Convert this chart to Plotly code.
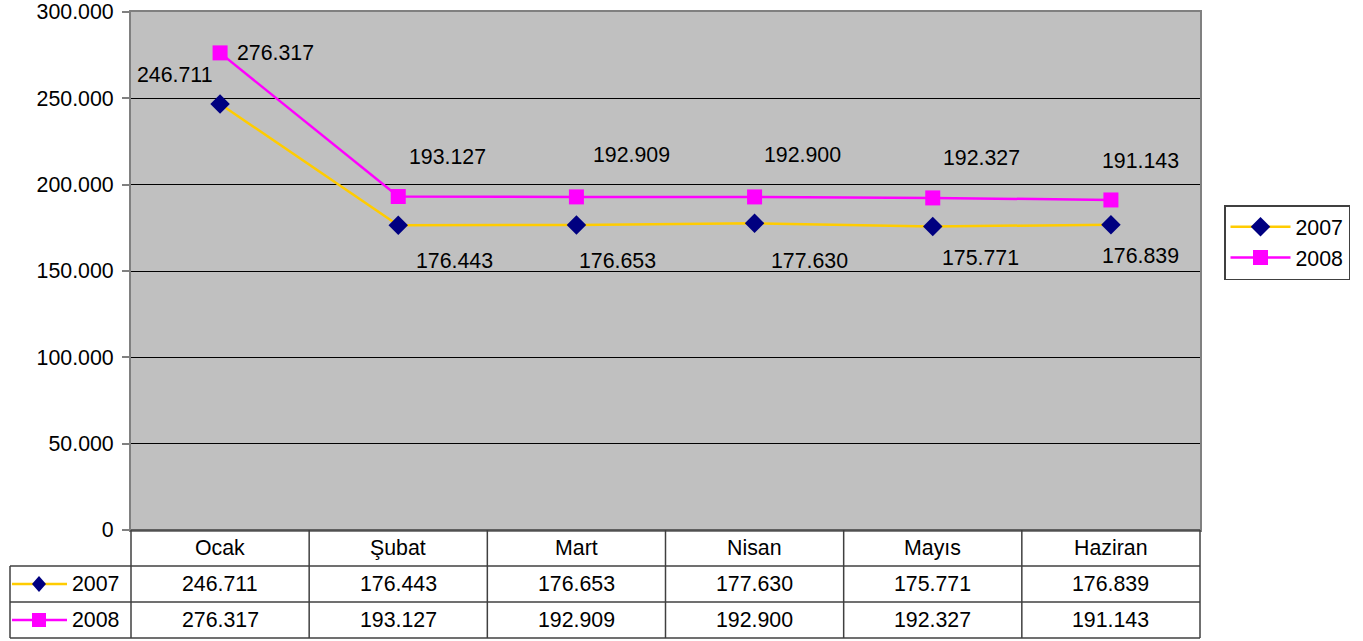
import plotly.graph_objects as go

categories = ["Ocak", "Şubat", "Mart", "Nisan", "Mayıs", "Haziran"]
series_names = ["2007", "2008"]
values_2007 = [246711, 176443, 176653, 177630, 175771, 176839]
values_2008 = [276317, 193127, 192909, 192900, 192327, 191143]
y_ticks = [0, 50000, 100000, 150000, 200000, 250000, 300000]

# label pixel offsets (style only)
off_2007 = [(-45, 29), (56, -36), (41, -36), (55, -38), (48, -31), (30, -31)]
off_2008 = [(55, 0), (49, 40), (55, 42), (48, 42), (49, 40), (30, 39)]

FONT = "Arial, Liberation Sans, sans-serif"
FS = 21.33
GOLD = "#FFCC00"
NAVY = "#000080"
MAG = "#FF00FF"

PL, PT, PW, PH = 131, 12, 1069.0, 518.0
FIG_W, FIG_H = 1363, 641

def fmt(v):
    return f"{v:,}".replace(",", ".")

def px(xp):  # page x -> paper
    return (xp - PL) / PW

def py(yp):  # page y -> paper
    return (PT + PH - yp) / PH

fig = go.Figure()
fig.add_trace(go.Scatter(x=categories, y=values_2007, name=series_names[0], mode="lines+markers",
                         legendgroup="a", hoverinfo="skip",
                         line=dict(color=GOLD, width=2.5),
                         marker=dict(symbol="diamond", color=NAVY, size=15, line=dict(width=0))))
fig.add_trace(go.Scatter(x=categories, y=values_2008, name=series_names[1], mode="lines+markers",
                         legendgroup="b", hoverinfo="skip",
                         line=dict(color=MAG, width=2.5),
                         marker=dict(symbol="square", color=MAG, size=15, line=dict(width=0))))

ann = []
tf = dict(size=FS, color="black", family=FONT)
for i, c in enumerate(categories):
    ann.append(dict(x=c, y=values_2007[i], xref="x", yref="y", text=fmt(values_2007[i]), showarrow=False,
                    xshift=off_2007[i][0], yshift=off_2007[i][1], font=tf))
    ann.append(dict(x=c, y=values_2008[i], xref="x", yref="y", text=fmt(values_2008[i]), showarrow=False,
                    xshift=off_2008[i][0], yshift=off_2008[i][1], font=tf))

# data table
row_c = [py(548), py(584), py(620)]
for i, c in enumerate(categories):
    for r, txt in enumerate([c, fmt(values_2007[i]), fmt(values_2008[i])]):
        ann.append(dict(x=c, y=row_c[r], xref="x", yref="paper", text=txt, showarrow=False,
                        xanchor="center", yanchor="middle", font=tf))
for k, nm in enumerate(series_names):
    ann.append(dict(x=px(70), y=row_c[k + 1], xref="paper", yref="paper", text=nm, showarrow=False,
                    xanchor="left", yanchor="middle", font=tf))

shapes = []
LC = "#404040"
shapes.append(dict(type="line", xref="paper", yref="paper", x0=px(131), x1=px(1200), y0=py(530), y1=py(530),
                   line=dict(color=LC, width=1.5)))
for yy in [566, 602, 638]:
    shapes.append(dict(type="line", xref="paper", yref="paper", x0=px(10), x1=px(1200), y0=py(yy), y1=py(yy),
                       line=dict(color=LC, width=1.5)))
for j in range(7):
    xx = 131 + j * PW / 6
    shapes.append(dict(type="line", xref="paper", yref="paper", x0=px(xx), x1=px(xx), y0=py(530), y1=py(638),
                       line=dict(color=LC, width=1.5)))
shapes.append(dict(type="line", xref="paper", yref="paper", x0=px(10), x1=px(10), y0=py(566), y1=py(638),
                   line=dict(color=LC, width=1.5)))
for lc, yy in [(GOLD, 584), (MAG, 620)]:
    shapes.append(dict(type="line", xref="paper", yref="paper", x0=px(12), x1=px(67), y0=py(yy), y1=py(yy),
                       line=dict(color=lc, width=2.5)))
cx, cy = 39, 584
shapes.append(dict(type="path", xref="paper", yref="paper",
                   path=f"M {px(cx-7)},{py(cy)} L {px(cx)},{py(cy-8)} L {px(cx+7)},{py(cy)} L {px(cx)},{py(cy+8)} Z",
                   fillcolor=NAVY, line=dict(width=0)))
cy = 620
shapes.append(dict(type="rect", xref="paper", yref="paper", x0=px(cx-7), x1=px(cx+7), y0=py(cy+7), y1=py(cy-7),
                   fillcolor=MAG, line=dict(width=0)))

fig.update_layout(
    width=FIG_W, height=FIG_H,
    margin=dict(l=PL, r=FIG_W - PL - PW, t=PT, b=FIG_H - PT - PH, autoexpand=False),
    paper_bgcolor="white", plot_bgcolor="#C0C0C0",
    separators=",.",
    font=dict(family=FONT, size=FS, color="black"),
    showlegend=True, hovermode=False,
    legend=dict(x=px(1224), y=py(205), xanchor="left", yanchor="top",
                bgcolor="white", bordercolor="#404040", borderwidth=1.5,
                font=tf, traceorder="grouped", tracegroupgap=0,
                itemwidth=60),
    annotations=ann, shapes=shapes,
)
fig.update_xaxes(type="category", range=[-0.5, 5.5], showticklabels=False, ticks="",
                 showgrid=False, showline=True, mirror=True, linecolor="#808080", linewidth=2, zeroline=False,
                 automargin=False)
fig.update_yaxes(range=[0, 300000], tickvals=y_ticks, tickformat=",.0f", ticks="outside", ticklen=7,
                 tickcolor="#808080", tickwidth=1.5, showgrid=True, gridcolor="black", gridwidth=1,
                 showline=True, mirror=True, linecolor="#808080", linewidth=2, zeroline=False,
                 tickfont=tf, automargin=False, ticklabelstandoff=4, ticklabeloverflow="allow")

fig.write_html("out.html", config={"displayModeBar": False},
               post_script="document.body.style.margin='0px';")
